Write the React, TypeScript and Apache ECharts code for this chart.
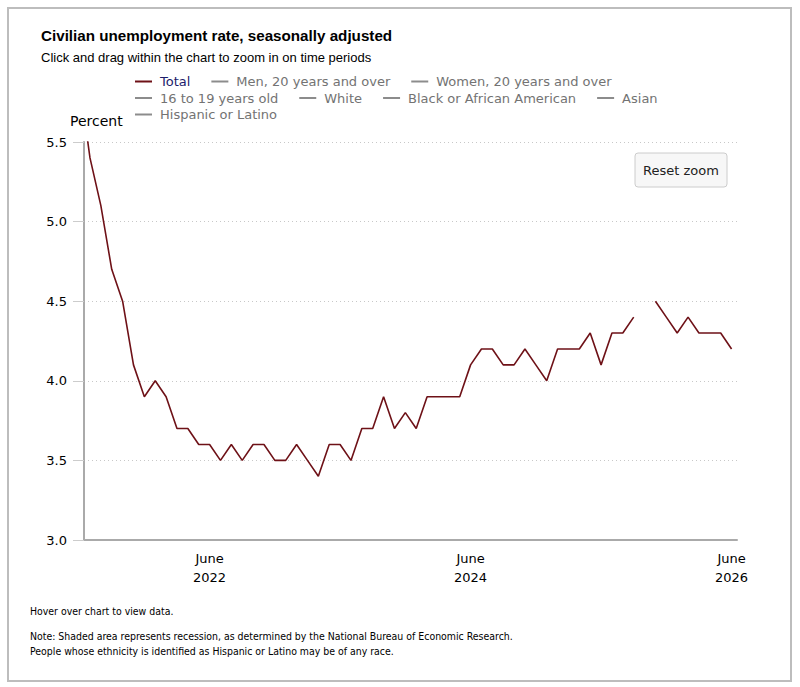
import React, { useEffect, useRef } from "react";
import * as echarts from "echarts";

const TITLE = "Civilian unemployment rate, seasonally adjusted";
const SUBTITLE = "Click and drag within the chart to zoom in on time periods";
const Y_TITLE = "Percent";
const RESET_LABEL = "Reset zoom";
const FOOTNOTES = [
  "Hover over chart to view data.",
  "Note: Shaded area represents recession, as determined by the National Bureau of Economic Research.",
  "People whose ethnicity is identified as Hispanic or Latino may be of any race.",
];

const LEGEND_NAMES = [
  "Total",
  "Men, 20 years and over",
  "Women, 20 years and over",
  "16 to 19 years old",
  "White",
  "Black or African American",
  "Asian",
  "Hispanic or Latino",
];
const LEGEND_ROWS = [[0, 1, 2], [3, 4, 5, 6], [7]];

// month index counted from January 2021 (= 0)
const FIRST_MONTH = 5; // June 2021
const X_TICK_MONTHS = [17, 41, 65];
const X_TICK_LABELS = ["June\n2022", "June\n2024", "June\n2026"];

// Total, monthly from June 2021 (null = no data, October 2025)
const TOTAL_RATE: (number | null)[] = [
  5.9, 5.4, 5.1, 4.7, 4.5, 4.1, 3.9,
  4.0, 3.9, 3.7, 3.7, 3.6, 3.6, 3.5, 3.6, 3.5, 3.6, 3.6, 3.5,
  3.5, 3.6, 3.5, 3.4, 3.6, 3.6, 3.5, 3.7, 3.7, 3.9, 3.7, 3.8,
  3.7, 3.9, 3.9, 3.9, 3.9, 4.1, 4.2, 4.2, 4.1, 4.1, 4.2, 4.1,
  4.0, 4.2, 4.2, 4.2, 4.3, 4.1, 4.3, 4.3, 4.4, null, 4.5, 4.4,
  4.3, 4.4, 4.3, 4.3, 4.3, 4.2,
];

const Y_MIN = 3.0;
const Y_MAX = 5.5;
const Y_STEP = 0.5;

const LINE_COLOR = "#6e1117";
const OTHER_COLOR = "#8c8c8c";

export default function App() {
  const ref = useRef<HTMLDivElement>(null);

  useEffect(() => {
    document.body.style.margin = "0";
    if (!ref.current) return;
    const chart = echarts.init(ref.current, undefined, { renderer: "svg" });

    const totalData = TOTAL_RATE.map((v, i) => [FIRST_MONTH + i, v === null ? "-" : v]);

    const series: any[] = LEGEND_NAMES.map((name, i) => ({
      name,
      type: "line",
      data: i === 0 ? totalData : [],
      showSymbol: false,
      symbol: "none",
      connectNulls: false,
      clip: true,
      color: i === 0 ? LINE_COLOR : OTHER_COLOR,
      lineStyle: { width: 1.6, color: i === 0 ? LINE_COLOR : OTHER_COLOR },
    }));

    const legends = LEGEND_ROWS.map((row, r) => ({
      show: true,
      orient: "horizontal",
      left: 135,
      top: 74 + r * 16.5,
      padding: 0,
      itemGap: 21,
      itemWidth: 17,
      itemHeight: 2,
      icon: "rect",
      selectedMode: false,
      textStyle: {
        fontFamily: "DejaVu Sans",
        fontSize: 13,
        lineHeight: 15,
        color: "#737373",
        padding: [0, 0, 0, 3],
      },
      data: row.map((i) => ({
        name: LEGEND_NAMES[i],
        textStyle: i === 0 ? { color: "#1d1d6b" } : undefined,
      })),
    }));

    const option: any = {
      animation: false,
      backgroundColor: "#ffffff",
      textStyle: { fontFamily: "DejaVu Sans" },
      legend: legends,
      grid: {
        left: 84,
        top: 142,
        width: 653,
        height: 398,
        containLabel: false,
        outerBoundsMode: "none",
      },
      xAxis: {
        type: "value",
        min: 5.45,
        max: 65.5,
        axisLine: { show: true, lineStyle: { color: "#aaaaaa", width: 2 } },
        axisTick: { show: false },
        splitLine: { show: false },
        axisLabel: {
          customValues: X_TICK_MONTHS,
          formatter: (v: number) => {
            const k = X_TICK_MONTHS.indexOf(Math.round(v));
            return k >= 0 ? X_TICK_LABELS[k] : "";
          },
          color: "#000000",
          fontSize: 13,
          lineHeight: 19,
          margin: 9,
          fontFamily: "DejaVu Sans",
        },
      },
      yAxis: {
        type: "value",
        min: Y_MIN,
        max: Y_MAX,
        interval: Y_STEP,
        axisLine: { show: true, lineStyle: { color: "#aaaaaa", width: 2 } },
        axisTick: { show: true, length: 11, lineStyle: { color: "#cccccc", width: 1 } },
        splitLine: { show: true, lineStyle: { color: "#c8c8c8", width: 1, type: [1, 3] } },
        axisLabel: {
          formatter: (v: number) => v.toFixed(1),
          color: "#000000",
          fontSize: 13,
          margin: 17,
          fontFamily: "DejaVu Sans",
        },
      },
      series,
      graphic: [
        {
          type: "rect",
          shape: { x: 8, y: 8, width: 783, height: 673 },
          style: { fill: "none", stroke: "#bdbdbd", lineWidth: 2 },
          silent: true,
        },
        {
          type: "text",
          x: 41,
          y: 35,
          style: {
            text: TITLE,
            font: "bold 15.2px 'Liberation Sans', Arial, sans-serif",
            fill: "#000000",
            verticalAlign: "middle",
          },
        },
        {
          type: "text",
          x: 41,
          y: 57,
          style: {
            text: SUBTITLE,
            font: "13px 'Liberation Sans', Arial, sans-serif",
            fill: "#000000",
            verticalAlign: "middle",
          },
        },
        {
          type: "text",
          x: 70,
          y: 121,
          style: {
            text: Y_TITLE,
            font: "14px 'DejaVu Sans'",
            fill: "#000000",
            verticalAlign: "middle",
          },
        },
        {
          type: "group",
          x: 635,
          y: 153,
          children: [
            {
              type: "rect",
              shape: { x: 0, y: 0, width: 92, height: 34, r: 3 },
              style: { fill: "#f7f7f7", stroke: "#cccccc", lineWidth: 1 },
            },
            {
              type: "text",
              x: 46,
              y: 17,
              style: {
                text: RESET_LABEL,
                font: "13px 'DejaVu Sans'",
                fill: "#222222",
                align: "center",
                verticalAlign: "middle",
              },
            },
          ],
        },
        ...FOOTNOTES.map((t, i) => ({
          type: "text",
          x: 30,
          y: [611, 636, 651][i],
          scaleX: 0.94,
          style: {
            text: t,
            font: "10px 'DejaVu Sans'",
            fill: "#000000",
            verticalAlign: "middle",
          },
        })),
      ],
    };

    chart.setOption(option);
    return () => chart.dispose();
  }, []);

  return <div ref={ref} style={{ width: 800, height: 687 }} />;
}
